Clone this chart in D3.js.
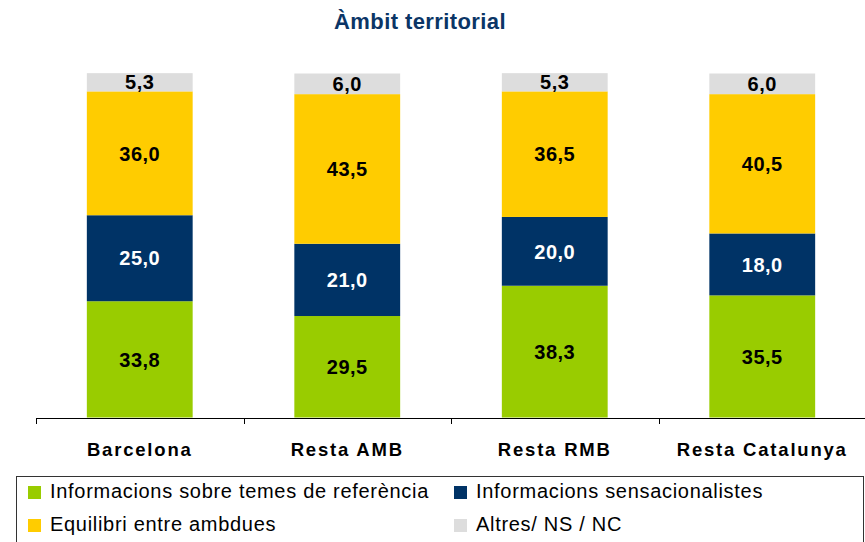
<!DOCTYPE html>
<html>
<head>
<meta charset="utf-8">
<script src="https://cdn.jsdelivr.net/npm/d3@7"></script>
<style>
  html, body { margin: 0; padding: 0; background: #fff; }
  svg { display: block; font-family: "Liberation Sans", Arial, sans-serif; }
</style>
</head>
<body>
<div id="chart"></div>
<script>
// categories + series (percentages)
const categories = ["Barcelona", "Resta AMB", "Resta RMB", "Resta Catalunya"];
const referencia = [33.8, 29.5, 38.3, 35.5];
const sensacionalistes = [25.0, 21.0, 20.0, 18.0];
const equilibri = [36.0, 43.5, 36.5, 40.5];
const altres = [5.3, 6.0, 5.3, 6.0];

const seriesNames = ["Informacions sobre temes de referència", "Informacions sensacionalistes", "Equilibri entre ambdues", "Altres/ NS / NC"];
const seriesVals = [referencia, sensacionalistes, equilibri, altres];
const colors = ["#99cc00", "#003366", "#ffcc00", "#dddddd"];
const labelColors = ["#000", "#fff", "#000", "#000"];

const W = 865, H = 542;
const svg = d3.select("#chart").append("svg").attr("width", W).attr("height", H);

svg.append("text").attr("x", 420).attr("y", 29).attr("text-anchor", "middle")
  .attr("font-size", "22px").attr("font-weight", "700").attr("fill", "#0b3566")
  .attr("letter-spacing", "0.4px")
  .text("Àmbit territorial");

const x = d3.scaleBand().domain(categories).range([36, 866]).paddingInner(0.49).paddingOuter(0.245);
const y = d3.scaleLinear().domain([0, 100]).range([417.5, 73.5]);

const rows = categories.map((c, i) => {
  const r = { cat: c };
  seriesNames.forEach((s, j) => r[s] = seriesVals[j][i]);
  return r;
});
const stacked = d3.stack().keys(seriesNames)(rows);

stacked.forEach((layer, j) => {
  const g = svg.append("g");
  g.selectAll("rect").data(layer).join("rect")
    .attr("x", d => x(d.data.cat)).attr("width", x.bandwidth())
    .attr("y", d => y(d[1])).attr("height", d => y(d[0]) - y(d[1]))
    .attr("fill", colors[j]);
  g.selectAll("text").data(layer).join("text")
    .attr("x", d => x(d.data.cat) + x.bandwidth() / 2)
    .attr("y", d => (y(d[0]) + y(d[1])) / 2).attr("dy", "0.36em")
    .attr("text-anchor", "middle").attr("font-size", "20px").attr("font-weight", "700")
    .attr("letter-spacing", "0.5px").attr("fill", labelColors[j])
    .text(d => d3.format(".1f")(d[1] - d[0]).replace(".", ","));
});

// category axis with ticks between groups
const axisY = 418;
svg.append("line").attr("x1", x.range()[0]).attr("x2", x.range()[1])
  .attr("y1", axisY + 0.5).attr("y2", axisY + 0.5).attr("stroke", "#000");
const bounds = categories.map(c => x(c) - x.step() * x.paddingInner() / 2);
bounds[0] = x.range()[0];
bounds.forEach(b => {
  svg.append("line").attr("x1", Math.round(b) + 0.5).attr("x2", Math.round(b) + 0.5)
    .attr("y1", axisY).attr("y2", axisY + 6).attr("stroke", "#000");
});
svg.append("g").selectAll("text").data(categories).join("text")
  .attr("x", d => x(d) + x.bandwidth() / 2).attr("y", 456)
  .attr("text-anchor", "middle").attr("font-size", "18.5px").attr("font-weight", "700")
  .attr("letter-spacing", "1.8px").text(d => d);

// legend
svg.append("rect").attr("x", 16.5).attr("y", 476.5).attr("width", 847).attr("height", 80)
  .attr("fill", "none").attr("stroke", "#333");
const legPos = [[28, 486], [454, 486], [28, 519], [454, 519]];
seriesNames.forEach((s, j) => {
  const [lx, ly] = legPos[j];
  svg.append("rect").attr("x", lx).attr("y", ly).attr("width", 13).attr("height", 13).attr("fill", colors[j]);
  svg.append("text").attr("x", lx + 22).attr("y", ly + 12).attr("font-size", "20px")
    .attr("letter-spacing", "0.7px").attr("fill", "#000").text(s);
});
</script>
</body>
</html>
